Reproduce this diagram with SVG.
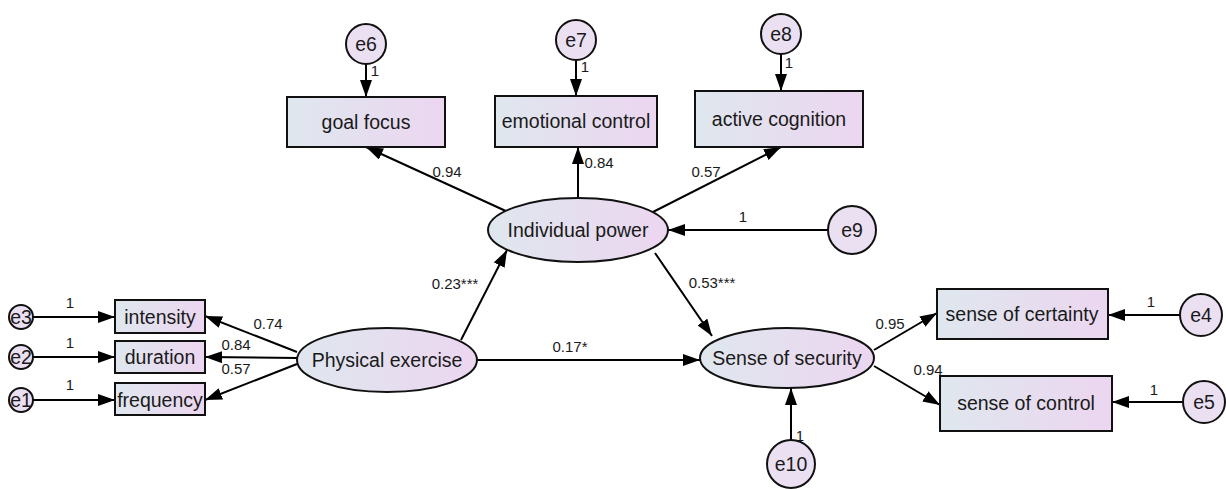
<svg xmlns="http://www.w3.org/2000/svg" width="1226" height="489" viewBox="0 0 1226 489">
<defs>
<linearGradient id="g" x1="0" y1="0" x2="1" y2="0">
<stop offset="0" stop-color="#dfe7ee"/>
<stop offset="1" stop-color="#ecd6f0"/>
</linearGradient>
<marker id="a" viewBox="0 0 17 12" refX="17" refY="6" markerWidth="17" markerHeight="12" markerUnits="userSpaceOnUse" orient="auto">
<path d="M0,0 L17,6 L0,12 z" fill="#000"/>
</marker>
<style>
.n{fill:url(#g);stroke:#111;stroke-width:2}
.e{fill:#ebe0f2;stroke:#111;stroke-width:2}
.t{font-family:"Liberation Sans",Arial,sans-serif;font-size:19.5px;fill:#1a1a1a;text-anchor:middle}
.s{font-family:"Liberation Sans",Arial,sans-serif;font-size:15px;fill:#1a1a1a;text-anchor:middle}
.c line{stroke:#000;stroke-width:2;marker-end:url(#a)}
</style>
</defs>
<rect width="1226" height="489" fill="#fff"/>
<g class="c" id="connectors">
<line x1="33" y1="317" x2="115" y2="317"/>
<line x1="33" y1="357" x2="115" y2="357"/>
<line x1="33" y1="400" x2="115" y2="400"/>
<line x1="297" y1="352" x2="205" y2="316"/>
<line x1="297" y1="358" x2="205" y2="357"/>
<line x1="297" y1="364" x2="205" y2="400"/>
<line x1="366" y1="64" x2="366" y2="97"/>
<line x1="576" y1="60" x2="576" y2="96"/>
<line x1="781" y1="54" x2="781" y2="91"/>
<line x1="508" y1="212" x2="366" y2="147"/>
<line x1="578" y1="198" x2="578" y2="147"/>
<line x1="651" y1="213" x2="781" y2="147"/>
<line x1="828" y1="230" x2="668" y2="230"/>
<line x1="461" y1="340" x2="507" y2="250"/>
<line x1="655" y1="253" x2="712" y2="336"/>
<line x1="477" y1="360" x2="700" y2="360"/>
<line x1="874" y1="350" x2="937" y2="313"/>
<line x1="874" y1="366" x2="940" y2="405"/>
<line x1="1180" y1="315" x2="1108" y2="315"/>
<line x1="1183" y1="402" x2="1112" y2="402"/>
<line x1="791" y1="440" x2="791" y2="388"/>
</g>
<g id="labels">
<text class="s" x="70" y="308">1</text>
<text class="s" x="70" y="348">1</text>
<text class="s" x="70" y="390">1</text>
<text class="s" x="268" y="329">0.74</text>
<text class="s" x="236" y="350">0.84</text>
<text class="s" x="236" y="374">0.57</text>
<text class="s" x="375" y="76">1</text>
<text class="s" x="585" y="72">1</text>
<text class="s" x="789" y="68">1</text>
<text class="s" x="447" y="177">0.94</text>
<text class="s" x="599" y="168">0.84</text>
<text class="s" x="706" y="177">0.57</text>
<text class="s" x="743" y="222">1</text>
<text class="s" x="455" y="289">0.23***</text>
<text class="s" x="712" y="288">0.53***</text>
<text class="s" x="570" y="352">0.17*</text>
<text class="s" x="890" y="329">0.95</text>
<text class="s" x="928" y="375">0.94</text>
<text class="s" x="1151" y="307">1</text>
<text class="s" x="1154" y="395">1</text>
<text class="s" x="800" y="441">1</text>
</g>
<g id="e3"><circle class="e" cx="21" cy="317" r="12"/><text class="t" x="21" y="324">e3</text></g>
<g id="e2"><circle class="e" cx="21" cy="357" r="12"/><text class="t" x="21" y="364">e2</text></g>
<g id="e1"><circle class="e" cx="21" cy="400" r="12"/><text class="t" x="21" y="407">e1</text></g>
<g id="intensity"><rect class="n" x="115" y="300" width="90" height="33"/><text class="t" x="160" y="324">intensity</text></g>
<g id="duration"><rect class="n" x="115" y="341" width="90" height="32"/><text class="t" x="160" y="364">duration</text></g>
<g id="frequency"><rect class="n" x="115" y="383" width="90" height="32"/><text class="t" x="160" y="407">frequency</text></g>
<g id="physical"><ellipse class="n" cx="387" cy="360" rx="90" ry="32"/><text class="t" x="387" y="367">Physical exercise</text></g>
<g id="e6"><circle class="e" cx="366" cy="44" r="20"/><text class="t" x="366" y="51">e6</text></g>
<g id="e7"><circle class="e" cx="576" cy="40" r="20"/><text class="t" x="576" y="47">e7</text></g>
<g id="e8"><circle class="e" cx="781" cy="34" r="20"/><text class="t" x="781" y="41">e8</text></g>
<g id="goal"><rect class="n" x="287" y="97" width="158" height="50"/><text class="t" x="366" y="129">goal focus</text></g>
<g id="emotional"><rect class="n" x="495" y="96" width="162" height="51"/><text class="t" x="576" y="128">emotional control</text></g>
<g id="active"><rect class="n" x="695" y="91" width="168" height="56"/><text class="t" x="779" y="126">active cognition</text></g>
<g id="individual"><ellipse class="n" cx="578" cy="230" rx="90" ry="32"/><text class="t" x="578" y="237">Individual power</text></g>
<g id="e9"><circle class="e" cx="852" cy="230" r="24"/><text class="t" x="852" y="237">e9</text></g>
<g id="security"><ellipse class="n" cx="787" cy="358" rx="87" ry="30"/><text class="t" x="787" y="365">Sense of security</text></g>
<g id="certainty"><rect class="n" x="937" y="289" width="171" height="50"/><text class="t" x="1022" y="321">sense of certainty</text></g>
<g id="control"><rect class="n" x="940" y="376" width="172" height="55"/><text class="t" x="1026" y="410">sense of control</text></g>
<g id="e4"><circle class="e" cx="1201" cy="315" r="21"/><text class="t" x="1201" y="322">e4</text></g>
<g id="e5"><circle class="e" cx="1204" cy="402" r="21"/><text class="t" x="1204" y="409">e5</text></g>
<g id="e10"><circle class="e" cx="791" cy="464" r="24"/><text class="t" x="791" y="471">e10</text></g>
</svg>
